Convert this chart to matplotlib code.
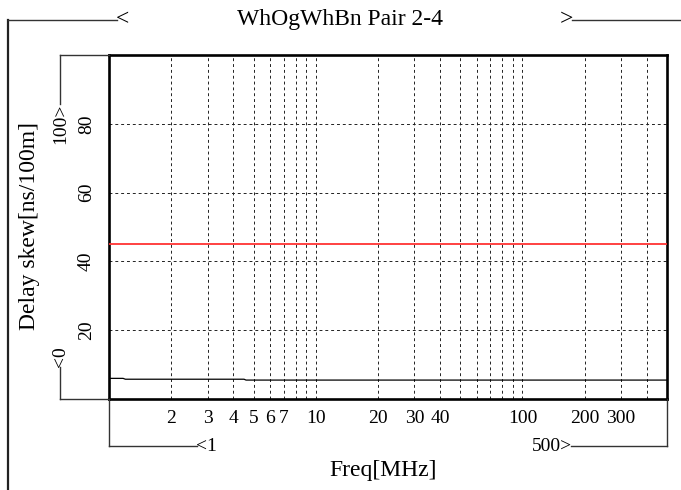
import matplotlib
matplotlib.use("Agg")
import matplotlib.pyplot as plt
from matplotlib.lines import Line2D

# Measured delay skew for the pair, plus the limit line
title = "WhOgWhBn Pair 2-4"
freq_mhz = [1.0, 1.17, 1.2, 4.5, 4.6, 500.0]
delay_skew = [6.0, 6.0, 5.75, 5.75, 5.5, 5.5]
limit_freq = [1.0, 500.0]
limit_skew = [45.0, 45.0]

x_range = (1, 500)
y_range = (0, 100)
x_ticks = [2, 3, 4, 5, 6, 7, 10, 20, 30, 40, 100, 200, 300]
x_grid = [2, 3, 4, 5, 6, 7, 8, 9, 10, 20, 30, 40, 50, 60, 70, 80, 90,
          100, 200, 300, 400]
y_ticks = [20, 40, 60, 80]

FONT = "Liberation Serif"
BIG = 17
SMALL = 14
W, H = 681, 490

fig = plt.figure(figsize=(W / 100, H / 100), dpi=100)
fig.patch.set_facecolor("white")


def fx(px):
    return px / W


def fy(py):
    return 1 - py / H


ax_l, ax_r, ax_t, ax_b = 109, 667, 55, 399
ax = fig.add_axes([fx(ax_l), fy(ax_b), fx(ax_r) - fx(ax_l), fy(ax_t) - fy(ax_b)])
ax.set_xscale("log")
ax.set_xlim(*x_range)
ax.set_ylim(*y_range)

for xv in x_grid:
    ax.axvline(xv, color="#222222", lw=0.7, dashes=(3, 3), zorder=1)
for yv in y_ticks:
    ax.axhline(yv, color="#222222", lw=0.7, dashes=(3, 3), zorder=1)

ax.plot(freq_mhz, delay_skew, color="black", lw=0.9, zorder=3)
ax.plot(limit_freq, limit_skew, color="#ff3333", lw=1.3, zorder=3)

ax.set_xticks(x_ticks)
ax.set_xticklabels([f"{t:g}" for t in x_ticks])
ax.xaxis.set_minor_locator(matplotlib.ticker.NullLocator())
ax.set_yticks(y_ticks)
ax.set_yticklabels([f"{t:g}" for t in y_ticks], rotation=90, va="center")
ax.tick_params(axis="both", length=0, labelsize=SMALL)
ax.tick_params(axis="x", pad=8)
ax.tick_params(axis="y", pad=10)
for lab in ax.get_xticklabels() + ax.get_yticklabels():
    lab.set_fontfamily(FONT)

for sp in ax.spines.values():
    sp.set_linewidth(1.9)
    sp.set_color("black")


def seg(x0, y0, x1, y1, lw=1.0, color="#333333"):
    fig.add_artist(Line2D([fx(x0), fx(x1)], [fy(y0), fy(y1)],
                          transform=fig.transFigure, color=color, lw=lw))


# Title with its bracket frame
fig.text(fx(340), fy(20), title, family=FONT, fontsize=BIG,
         ha="center", va="center")
seg(8, 20, 8, 490, lw=1.6, color="#222222")
seg(8, 20, 117, 20)
fig.text(fx(116), fy(20), "<", family=FONT, fontsize=BIG, ha="left", va="center")
fig.text(fx(573), fy(20), ">", family=FONT, fontsize=BIG, ha="right", va="center")
seg(572, 20, 681, 20)

# Frequency range bracket
seg(ax_l, ax_b, ax_l, 446)
seg(ax_l, 446, 197, 446)
fig.text(fx(196), fy(446), f"<{x_range[0]:g}", family=FONT, fontsize=SMALL,
         ha="left", va="center")
fig.text(fx(572), fy(446), f"{x_range[1]:g}>", family=FONT, fontsize=SMALL,
         ha="right", va="center")
seg(571, 446, ax_r, 446)
seg(ax_r, 446, ax_r, ax_b)

# Delay range bracket
seg(60, ax_t, ax_l, ax_t)
seg(60, ax_t, 60, 104)
fig.text(fx(61), fy(104), f"{y_range[1]:g}>", family=FONT, fontsize=SMALL,
         rotation=90, ha="center", va="top")
fig.text(fx(61), fy(367), f"<{y_range[0]:g}", family=FONT, fontsize=SMALL,
         rotation=90, ha="center", va="bottom")
seg(60, 367, 60, ax_b)
seg(60, ax_b, ax_l, ax_b)

# Axis titles
fig.text(fx(383), fy(470), "Freq[MHz]", family=FONT, fontsize=BIG,
         ha="center", va="center")
fig.text(fx(30), fy(226), "Delay skew[ns/100m]", family=FONT, fontsize=BIG,
         rotation=90, ha="center", va="center")

fig.savefig("out.png", dpi=100)
